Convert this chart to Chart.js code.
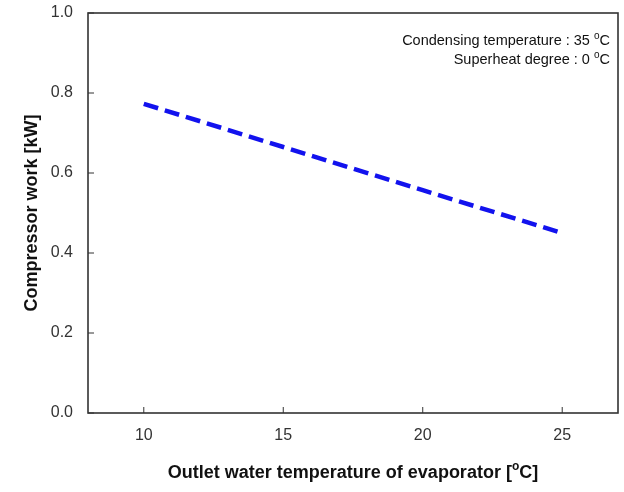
<!DOCTYPE html>
<html>
<head>
<meta charset="utf-8">
<script src="https://cdn.jsdelivr.net/npm/chart.js@4.4.1/dist/chart.umd.min.js"></script>
<style>
  html, body { margin: 0; padding: 0; background: #fff; }
  #wrap { width: 624px; height: 492px; }
</style>
</head>
<body>
<div id="wrap"><canvas id="chart" width="624" height="492"></canvas></div>
<script>
// data
const outletTemp = [10, 15, 20, 25];
const compressorWork = [0.773, 0.665, 0.557, 0.450];
const xTicks = [10, 15, 20, 25];
const yTicks = [0.0, 0.2, 0.4, 0.6, 0.8, 1.0];
const noteLines = [
    [['Condensing temperature : 35 ', false], ['o', true], ['C', false]],
    [['Superheat degree : 0 ', false], ['o', true], ['C', false]]
];
const xTitle = [['Outlet water temperature of evaporator [', false], ['o', true], ['C]', false]];
const yTitle = 'Compressor work [kW]';

const FONT = '"Liberation Sans", Arial, sans-serif';
Chart.defaults.font.family = FONT;

// draws text pieces, some raised as superscript, aligned on x
function drawParts(ctx, parts, x, y, size, bold, align) {
    const weight = bold ? 'bold ' : '';
    const supSize = Math.round(size * 0.68);
    let total = 0;
    parts.forEach(([t, sup]) => {
        ctx.font = weight + (sup ? supSize : size) + 'px ' + FONT;
        total += ctx.measureText(t).width;
    });
    let cx = align === 'right' ? x - total : align === 'center' ? x - total / 2 : x;
    ctx.textAlign = 'left';
    ctx.textBaseline = 'alphabetic';
    parts.forEach(([t, sup]) => {
        ctx.font = weight + (sup ? supSize : size) + 'px ' + FONT;
        ctx.fillText(t, cx, sup ? y - size * 0.42 : y);
        cx += ctx.measureText(t).width;
    });
}

const framePlugin = {
    id: 'frame',
    afterDatasetsDraw(chart) {
        const { ctx, chartArea: a, scales } = chart;
        ctx.save();
        ctx.strokeStyle = '#333';
        ctx.lineWidth = 1.6;
        ctx.strokeRect(a.left, a.top, a.right - a.left, a.bottom - a.top);
        // inside ticks
        ctx.lineWidth = 1;
        scales.x.ticks.forEach(t => {
            const px = scales.x.getPixelForValue(t.value);
            ctx.beginPath();
            ctx.moveTo(px, a.bottom);
            ctx.lineTo(px, a.bottom - 6);
            ctx.stroke();
        });
        scales.y.ticks.forEach(t => {
            const py = scales.y.getPixelForValue(t.value);
            ctx.beginPath();
            ctx.moveTo(a.left, py);
            ctx.lineTo(a.left + 6, py);
            ctx.stroke();
        });

        ctx.fillStyle = '#111';
        drawParts(ctx, noteLines[0], 610, 45, 14.5, false, 'right');
        drawParts(ctx, noteLines[1], 610, 64, 14.5, false, 'right');

        drawParts(ctx, xTitle, (a.left + a.right) / 2, 478, 18, true, 'center');

        ctx.translate(32, (a.top + a.bottom) / 2);
        ctx.rotate(-Math.PI / 2);
        ctx.font = 'bold 18px ' + FONT;
        ctx.textAlign = 'center';
        ctx.textBaseline = 'middle';
        ctx.fillText(yTitle, 0, 0);
        ctx.restore();
    }
};

new Chart(document.getElementById('chart'), {
    type: 'line',
    data: {
        datasets: [{
            data: outletTemp.map((t, i) => ({ x: t, y: compressorWork[i] })),
            borderColor: '#1212ee',
            borderWidth: 4.5,
            borderDash: [15, 7],
            pointRadius: 0,
            tension: 0,
            fill: false
        }]
    },
    options: {
        responsive: false,
        animation: false,
        layout: { padding: { top: 13, right: 6, left: 0, bottom: 0 } },
        plugins: { legend: { display: false }, tooltip: { enabled: false } },
        scales: {
            x: {
                type: 'linear',
                min: 8,
                max: 27,
                afterBuildTicks: s => { s.ticks = xTicks.map(v => ({ value: v })); },
                afterFit: s => { s.height = 79; s.paddingLeft = 0; s.paddingRight = 0; },
                grid: { display: false, drawTicks: false },
                border: { display: false },
                ticks: { padding: 13, color: '#333', font: { size: 16 } }
            },
            y: {
                min: 0,
                max: 1,
                afterBuildTicks: s => { s.ticks = yTicks.map(v => ({ value: v })); },
                afterFit: s => { s.width = 88; s.paddingTop = 0; s.paddingBottom = 0; },
                grid: { display: false, drawTicks: false },
                border: { display: false },
                ticks: { padding: 15, color: '#333', font: { size: 16 }, callback: v => v.toFixed(1) }
            }
        }
    },
    plugins: [framePlugin]
});
</script>
</body>
</html>
